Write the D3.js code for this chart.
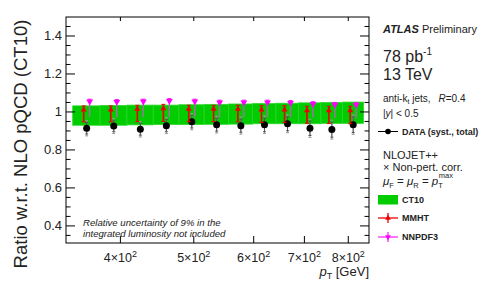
<!DOCTYPE html>
<html>
<head>
<meta charset="utf-8">
<script src="https://d3js.org/d3.v7.min.js"></script>
<style>
body { margin: 0; background: #fff; font-family: 'Liberation Sans', Arial, sans-serif; }
svg text { font-family: 'Liberation Sans', Arial, sans-serif; }
</style>
</head>
<body>
<div id="plot"></div>
<script>
// bin edges in pT [GeV]
var binEdges = [346, 376, 408, 442, 478, 516, 556, 598, 642, 688, 736, 786, 838];

// data / NLO (CT10)
var dataVals  = [0.914, 0.926, 0.909, 0.928, 0.949, 0.933, 0.928, 0.932, 0.938, 0.914, 0.907, 0.933];
var dataSyst  = [0.030, 0.030, 0.031, 0.032, 0.033, 0.034, 0.035, 0.036, 0.037, 0.038, 0.040, 0.041];
var dataTotal = [0.040, 0.040, 0.041, 0.042, 0.043, 0.044, 0.045, 0.046, 0.047, 0.048, 0.050, 0.051];

// CT10 uncertainty band
var ctLo = [0.930, 0.930, 0.932, 0.934, 0.934, 0.935, 0.936, 0.938, 0.938, 0.938, 0.940, 0.940];
var ctHi = [1.032, 1.034, 1.036, 1.036, 1.038, 1.040, 1.042, 1.044, 1.046, 1.048, 1.050, 1.052];

// MMHT / CT10
var mmht   = [1.012, 1.012, 1.015, 1.018, 1.015, 1.015, 1.015, 1.012, 1.012, 1.008, 1.008, 1.008];
var mmhtUp = [0.020, 0.020, 0.020, 0.022, 0.020, 0.020, 0.020, 0.021, 0.021, 0.022, 0.022, 0.022];
var mmhtDn = [0.064, 0.064, 0.066, 0.068, 0.066, 0.066, 0.067, 0.067, 0.068, 0.068, 0.069, 0.070];

// NNPDF3 / CT10
var nnpdf   = [1.055, 1.053, 1.055, 1.058, 1.055, 1.050, 1.050, 1.050, 1.048, 1.042, 1.038, 1.037];
var nnpdfUp = [0.012, 0.012, 0.012, 0.012, 0.012, 0.012, 0.012, 0.012, 0.012, 0.012, 0.012, 0.012];
var nnpdfDn = [0.082, 0.082, 0.083, 0.084, 0.083, 0.080, 0.078, 0.078, 0.076, 0.072, 0.070, 0.070];

var yTicks = [0.4, 0.6, 0.8, 1, 1.2, 1.4];
var xTicks = [400, 500, 600, 700, 800];
var xTickLabels = ["4", "5", "6", "7", "8"];

var W = 490, H = 292;
var pL = 66, pR = 369, pT = 17, pB = 243;

var svg = d3.select("#plot").append("svg").attr("width", W).attr("height", H);

var x = d3.scaleLog().domain([339, 852]).range([pL, pR]);
var y = d3.scaleLinear().domain([0.31, 1.5]).range([pB, pT]);

var bins = binEdges.slice(0, -1).map(function (lo, i) {
  return { lo: lo, hi: binEdges[i + 1], mid: (lo + binEdges[i + 1]) / 2, i: i };
});

// CT10 band
svg.selectAll("rect.band").data(bins).enter().append("rect")
  .attr("class", "band")
  .attr("x", function (d) { return x(d.lo); })
  .attr("width", function (d) { return x(d.hi) - x(d.lo); })
  .attr("y", function (d) { return y(ctHi[d.i]); })
  .attr("height", function (d) { return y(ctLo[d.i]) - y(ctHi[d.i]); })
  .attr("fill", "#00cc00")
  .attr("stroke", "#2ad62a").attr("stroke-width", 0.8);

function vbar(g, xx, v1, v2, col, w, cap) {
  g.append("line").attr("x1", xx).attr("x2", xx).attr("y1", y(v1)).attr("y2", y(v2))
    .attr("stroke", col).attr("stroke-width", w);
  if (cap) {
    [v1, v2].forEach(function (v) {
      g.append("line").attr("x1", xx - cap).attr("x2", xx + cap).attr("y1", y(v)).attr("y2", y(v))
        .attr("stroke", col).attr("stroke-width", 1);
    });
  }
}

var marks = svg.append("g");
bins.forEach(function (d) {
  var cx = x(d.mid);
  var i = d.i;
  // data: total (grey) and syst (dark)
  vbar(marks, cx, dataVals[i] - dataTotal[i], dataVals[i] + dataTotal[i], "#999", 1, 1.5);
  vbar(marks, cx, dataVals[i] - dataSyst[i], dataVals[i] + dataSyst[i], "#555", 1, 1.5);
  marks.append("circle").attr("cx", cx).attr("cy", y(dataVals[i])).attr("r", 3.5).attr("fill", "#000");

  // MMHT
  var rx = cx - 3;
  vbar(marks, rx, mmht[i] - mmhtDn[i], mmht[i] + mmhtUp[i], "#ee0000", 1.6, 2);
  marks.append("path")
    .attr("d", d3.symbol().type(d3.symbolTriangle).size(16)())
    .attr("transform", "translate(" + rx + "," + y(mmht[i]) + ")")
    .attr("fill", "#ee0000");

  // NNPDF3
  var mx = cx + 3;
  vbar(marks, mx, nnpdf[i] - nnpdfDn[i], nnpdf[i] + nnpdfUp[i], "#b566b5", 1.3, 0);
  marks.append("line").attr("x1", mx - 2).attr("x2", mx + 2)
    .attr("y1", y(nnpdf[i] + nnpdfUp[i])).attr("y2", y(nnpdf[i] + nnpdfUp[i]))
    .attr("stroke", "#ff00ff").attr("stroke-width", 1);
  marks.append("path")
    .attr("d", d3.symbol().type(d3.symbolTriangle).size(20)())
    .attr("transform", "translate(" + mx + "," + y(nnpdf[i]) + ") rotate(180)")
    .attr("fill", "#ff00ff");
});

// frame
svg.append("rect").attr("x", pL).attr("y", pT).attr("width", pR - pL).attr("height", pB - pT)
  .attr("fill", "none").attr("stroke", "#000").attr("stroke-width", 1);

// y ticks (left and right, inward)
var ax = svg.append("g").attr("stroke", "#000").attr("stroke-width", 1);
d3.range(0.35, 1.5, 0.05).forEach(function (v) {
  var major = yTicks.some(function (t) { return Math.abs(t - v) < 1e-6; });
  var len = major ? 9 : 4.5;
  ax.append("line").attr("x1", pL).attr("x2", pL + len).attr("y1", y(v)).attr("y2", y(v));
  ax.append("line").attr("x1", pR).attr("x2", pR - len).attr("y1", y(v)).attr("y2", y(v));
});
svg.selectAll("text.ytick").data(yTicks).enter().append("text")
  .attr("class", "ytick")
  .attr("x", pL - 4).attr("y", function (d) { return y(d) + 4.5; })
  .attr("text-anchor", "end").attr("font-size", 13).attr("fill", "#222")
  .text(function (d) { return d3.format("")(d); });

// x ticks (bottom and top)
xTicks.forEach(function (t) {
  ax.append("line").attr("x1", x(t)).attr("x2", x(t)).attr("y1", pB).attr("y2", pB - 7);
  ax.append("line").attr("x1", x(t)).attr("x2", x(t)).attr("y1", pT).attr("y2", pT + 4);
});
xTicks.forEach(function (t, k) {
  var tx = svg.append("text").attr("x", x(t)).attr("y", 262).attr("text-anchor", "middle")
    .attr("font-size", 12.5).attr("fill", "#222");
  tx.append("tspan").text(xTickLabels[k] + "\u00d710");
  tx.append("tspan").attr("dy", -5).attr("font-size", 9).text("2");
});

// axis titles
svg.append("text")
  .attr("transform", "translate(27,144) rotate(-90)")
  .attr("text-anchor", "middle").attr("font-size", 18.5).attr("fill", "#222")
  .text("Ratio w.r.t. NLO pQCD (CT10)");

var xt = svg.append("text").attr("x", pR).attr("y", 276).attr("text-anchor", "end")
  .attr("font-size", 13).attr("fill", "#222");
xt.append("tspan").attr("font-style", "italic").text("p");
xt.append("tspan").attr("dy", 3).attr("font-size", 9).text("T");
xt.append("tspan").attr("dy", -3).text(" [GeV]");

// luminosity note
svg.append("text").attr("x", 83).attr("y", 226).attr("font-size", 9.6).attr("font-style", "italic")
  .attr("fill", "#222").text("Relative uncertainty of 9% in the");
svg.append("text").attr("x", 83).attr("y", 237).attr("font-size", 9.6).attr("font-style", "italic")
  .attr("fill", "#222").text("integrated luminosity not included");

// right-hand legend
var L = svg.append("g").attr("fill", "#222");
var t1 = L.append("text").attr("x", 383).attr("y", 33).attr("font-size", 11);
t1.append("tspan").attr("font-weight", "bold").attr("font-style", "italic").text("ATLAS");
t1.append("tspan").text(" Preliminary");

var t2 = L.append("text").attr("x", 383).attr("y", 62).attr("font-size", 16);
t2.append("tspan").text("78 pb");
t2.append("tspan").attr("dy", -7).attr("font-size", 10).text("-1");
L.append("text").attr("x", 383).attr("y", 80).attr("font-size", 16).text("13 TeV");

var t3 = L.append("text").attr("x", 383).attr("y", 102).attr("font-size", 10);
t3.append("tspan").text("anti-k");
t3.append("tspan").attr("dy", 2).attr("font-size", 7).text("t");
t3.append("tspan").attr("dy", -2).text(" jets,");
t3.append("tspan").attr("dx", 8).attr("font-style", "italic").text("R");
t3.append("tspan").text("=0.4");

var t4 = L.append("text").attr("x", 383).attr("y", 117).attr("font-size", 10);
t4.append("tspan").text("|");
t4.append("tspan").attr("font-style", "italic").text("y");
t4.append("tspan").text("| < 0.5");

// data legend entry
L.append("line").attr("x1", 378).attr("x2", 398).attr("y1", 131.5).attr("y2", 131.5).attr("stroke", "#000");
L.append("circle").attr("cx", 388).attr("cy", 131.5).attr("r", 2.8).attr("fill", "#000");
L.append("text").attr("x", 402).attr("y", 134.5).attr("font-size", 9).attr("font-weight", "bold").text("DATA (syst., total)");

L.append("text").attr("x", 383).attr("y", 159).attr("font-size", 11).text("NLOJET++");
L.append("text").attr("x", 383).attr("y", 170.5).attr("font-size", 11).text("\u00d7 Non-pert. corr.");
var t5 = L.append("text").attr("x", 383).attr("y", 185).attr("font-size", 11.5);
t5.append("tspan").attr("font-style", "italic").text("\u03bc");
t5.append("tspan").attr("dy", 3).attr("font-size", 7.5).text("F");
t5.append("tspan").attr("dy", -3).text(" = ");
t5.append("tspan").attr("font-style", "italic").text("\u03bc");
t5.append("tspan").attr("dy", 3).attr("font-size", 7.5).text("R");
t5.append("tspan").attr("dy", -3).text(" = ");
t5.append("tspan").attr("font-style", "italic").text("p");
t5.append("tspan").attr("dy", 3).attr("font-size", 7.5).text("T");
t5.append("tspan").attr("dx", -4).attr("dy", -10).attr("font-size", 7.5).text("max");

L.append("rect").attr("x", 378).attr("y", 195).attr("width", 20).attr("height", 9.5).attr("fill", "#00cc00");
L.append("text").attr("x", 402).attr("y", 203).attr("font-size", 9).attr("font-weight", "bold").text("CT10");

L.append("line").attr("x1", 378).attr("x2", 398).attr("y1", 218).attr("y2", 218).attr("stroke", "#ee0000").attr("stroke-width", 1.3);
L.append("line").attr("x1", 388).attr("x2", 388).attr("y1", 213).attr("y2", 223).attr("stroke", "#ee0000").attr("stroke-width", 1.3);
L.append("path").attr("d", d3.symbol().type(d3.symbolTriangle).size(14)())
  .attr("transform", "translate(388,218)").attr("fill", "#ee0000");
L.append("text").attr("x", 402).attr("y", 221).attr("font-size", 9).attr("font-weight", "bold").text("MMHT");

L.append("line").attr("x1", 378).attr("x2", 398).attr("y1", 237).attr("y2", 237).attr("stroke", "#ff00ff").attr("stroke-width", 1.1);
L.append("line").attr("x1", 388).attr("x2", 388).attr("y1", 232).attr("y2", 242).attr("stroke", "#ff00ff").attr("stroke-width", 1.1);
L.append("path").attr("d", d3.symbol().type(d3.symbolTriangle).size(14)())
  .attr("transform", "translate(388,237) rotate(180)").attr("fill", "#ff00ff");
L.append("text").attr("x", 402).attr("y", 240).attr("font-size", 9).attr("font-weight", "bold").text("NNPDF3");
</script>
</body>
</html>
